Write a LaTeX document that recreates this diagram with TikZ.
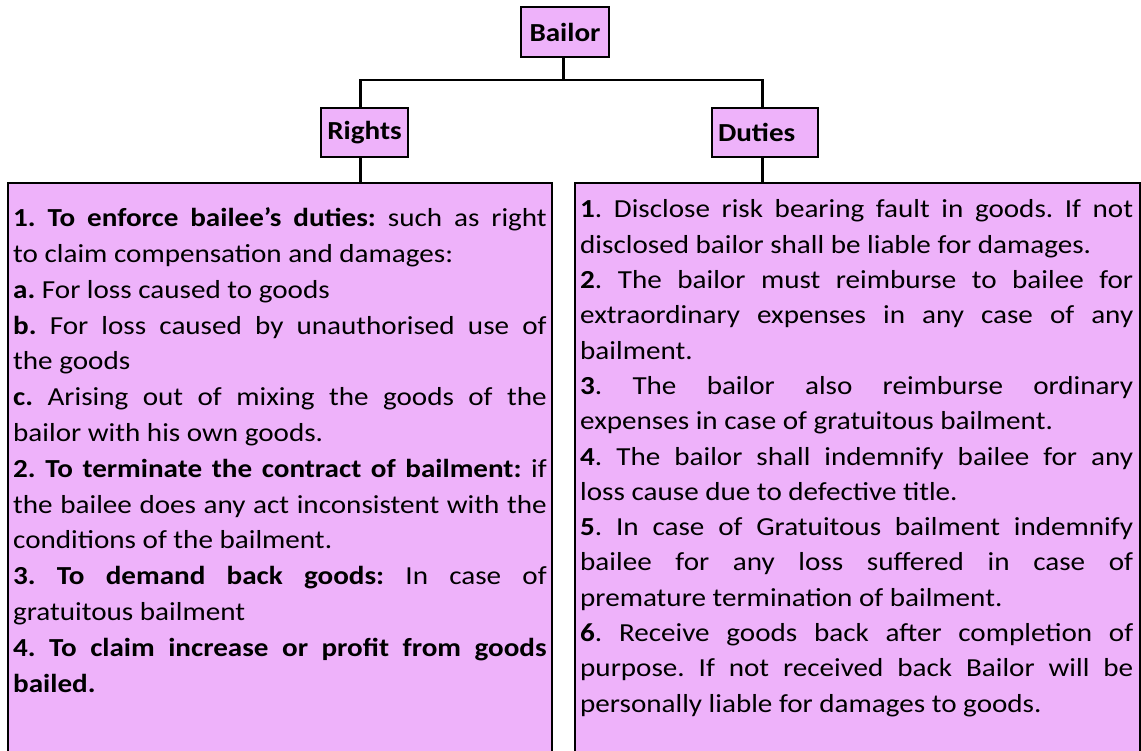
\documentclass[tikz,border=0pt]{standalone}
\usepackage{fontspec}
\setmainfont{Carlito}[FakeStretch=1.12]
\definecolor{boxpink}{RGB}{238,178,250}
\newcommand\bodysetup{\frenchspacing\hyphenpenalty=10000 \exhyphenpenalty=10000 \tolerance=10000 \parindent=0pt \parskip=0pt \emergencystretch=20pt }
\begin{document}
\begin{tikzpicture}[x=1pt,y=-1pt,
  head/.style={draw=black, line width=2pt, fill=boxpink, font=\fontsize{26}{30}\selectfont\bfseries, minimum height=49pt, inner sep=0pt},
  big/.style={draw=black, line width=2pt, fill=boxpink, anchor=north west, inner sep=0pt},
  body/.style={anchor=base west, inner sep=0pt, align=justify},
  conn/.style={line width=2.7pt}]
\useasboundingbox (0,0) rectangle (1141,751);
% boxes
\node[big, minimum width=543.7pt, minimum height=600pt] (lbox) at (7.3,181.7) {};
\node[big, minimum width=565pt, minimum height=600pt] (rbox) at (574,181.7) {};
\node[head, minimum width=88pt, minimum height=50pt] (bailor) at (565,32) {Bailor};
\node[head, minimum width=87pt] (rights) at (364.5,132.5) {Rights};
\node[head, minimum width=106pt, text width=94pt, align=left, inner xsep=6pt] (duties) at (765,132.5) {Duties};
% connectors
\coordinate (j) at (563.3,80);
\draw[conn] ([xshift=-1.7pt]bailor.south) -- (j);
\draw[conn] ([xshift=-3.8pt]rights.north) |- (j) -| ([xshift=-2.3pt]duties.north);
\draw[conn] ([xshift=-3.8pt]rights.south) -- ([xshift=-3.8pt]rights.south |- lbox.north);
\draw[conn] ([xshift=-2.3pt]duties.south) -- ([xshift=-2.3pt]duties.south |- rbox.north);
% texts
\node[body, text width=533.5pt, font=\fontsize{26}{35.8}\selectfont] (ltext) at (13,226.7) {\bodysetup
\textbf{1. To enforce bailee's duties:} such as right\linebreak
to claim compensation and damages:\par
\textbf{a.} For loss caused to goods\par
\textbf{b.} For loss caused by unauthorised use of\linebreak
the goods\par
\textbf{c.} Arising out of mixing the goods of the\linebreak
bailor with his own goods.\par
\textbf{2. To terminate the contract of bailment:} if\linebreak
the bailee does any act inconsistent with the\linebreak
conditions of the bailment.\par
\textbf{3. To demand back goods:} In case of\linebreak
gratuitous bailment\par
\textbf{4. To claim increase or profit from goods\linebreak
bailed.}};
\node[body, text width=553pt, font=\fontsize{26}{35.3}\selectfont] (rtext) at (580,218) {\bodysetup
\textbf{1}. Disclose risk bearing fault in goods. If not\linebreak
disclosed bailor shall be liable for damages.\par
\textbf{2}. The bailor must reimburse to bailee for\linebreak
extraordinary expenses in any case of any\linebreak
bailment.\par
\textbf{3}. The bailor also reimburse ordinary\linebreak
expenses in case of gratuitous bailment.\par
\textbf{4}. The bailor shall indemnify bailee for any\linebreak
loss cause due to defective title.\par
\textbf{5}. In case of Gratuitous bailment indemnify\linebreak
bailee for any loss suffered in case of\linebreak
premature termination of bailment.\par
\textbf{6}. Receive goods back after completion of\linebreak
purpose. If not received back Bailor will be\linebreak
personally liable for damages to goods.};
\end{tikzpicture}
\end{document}
